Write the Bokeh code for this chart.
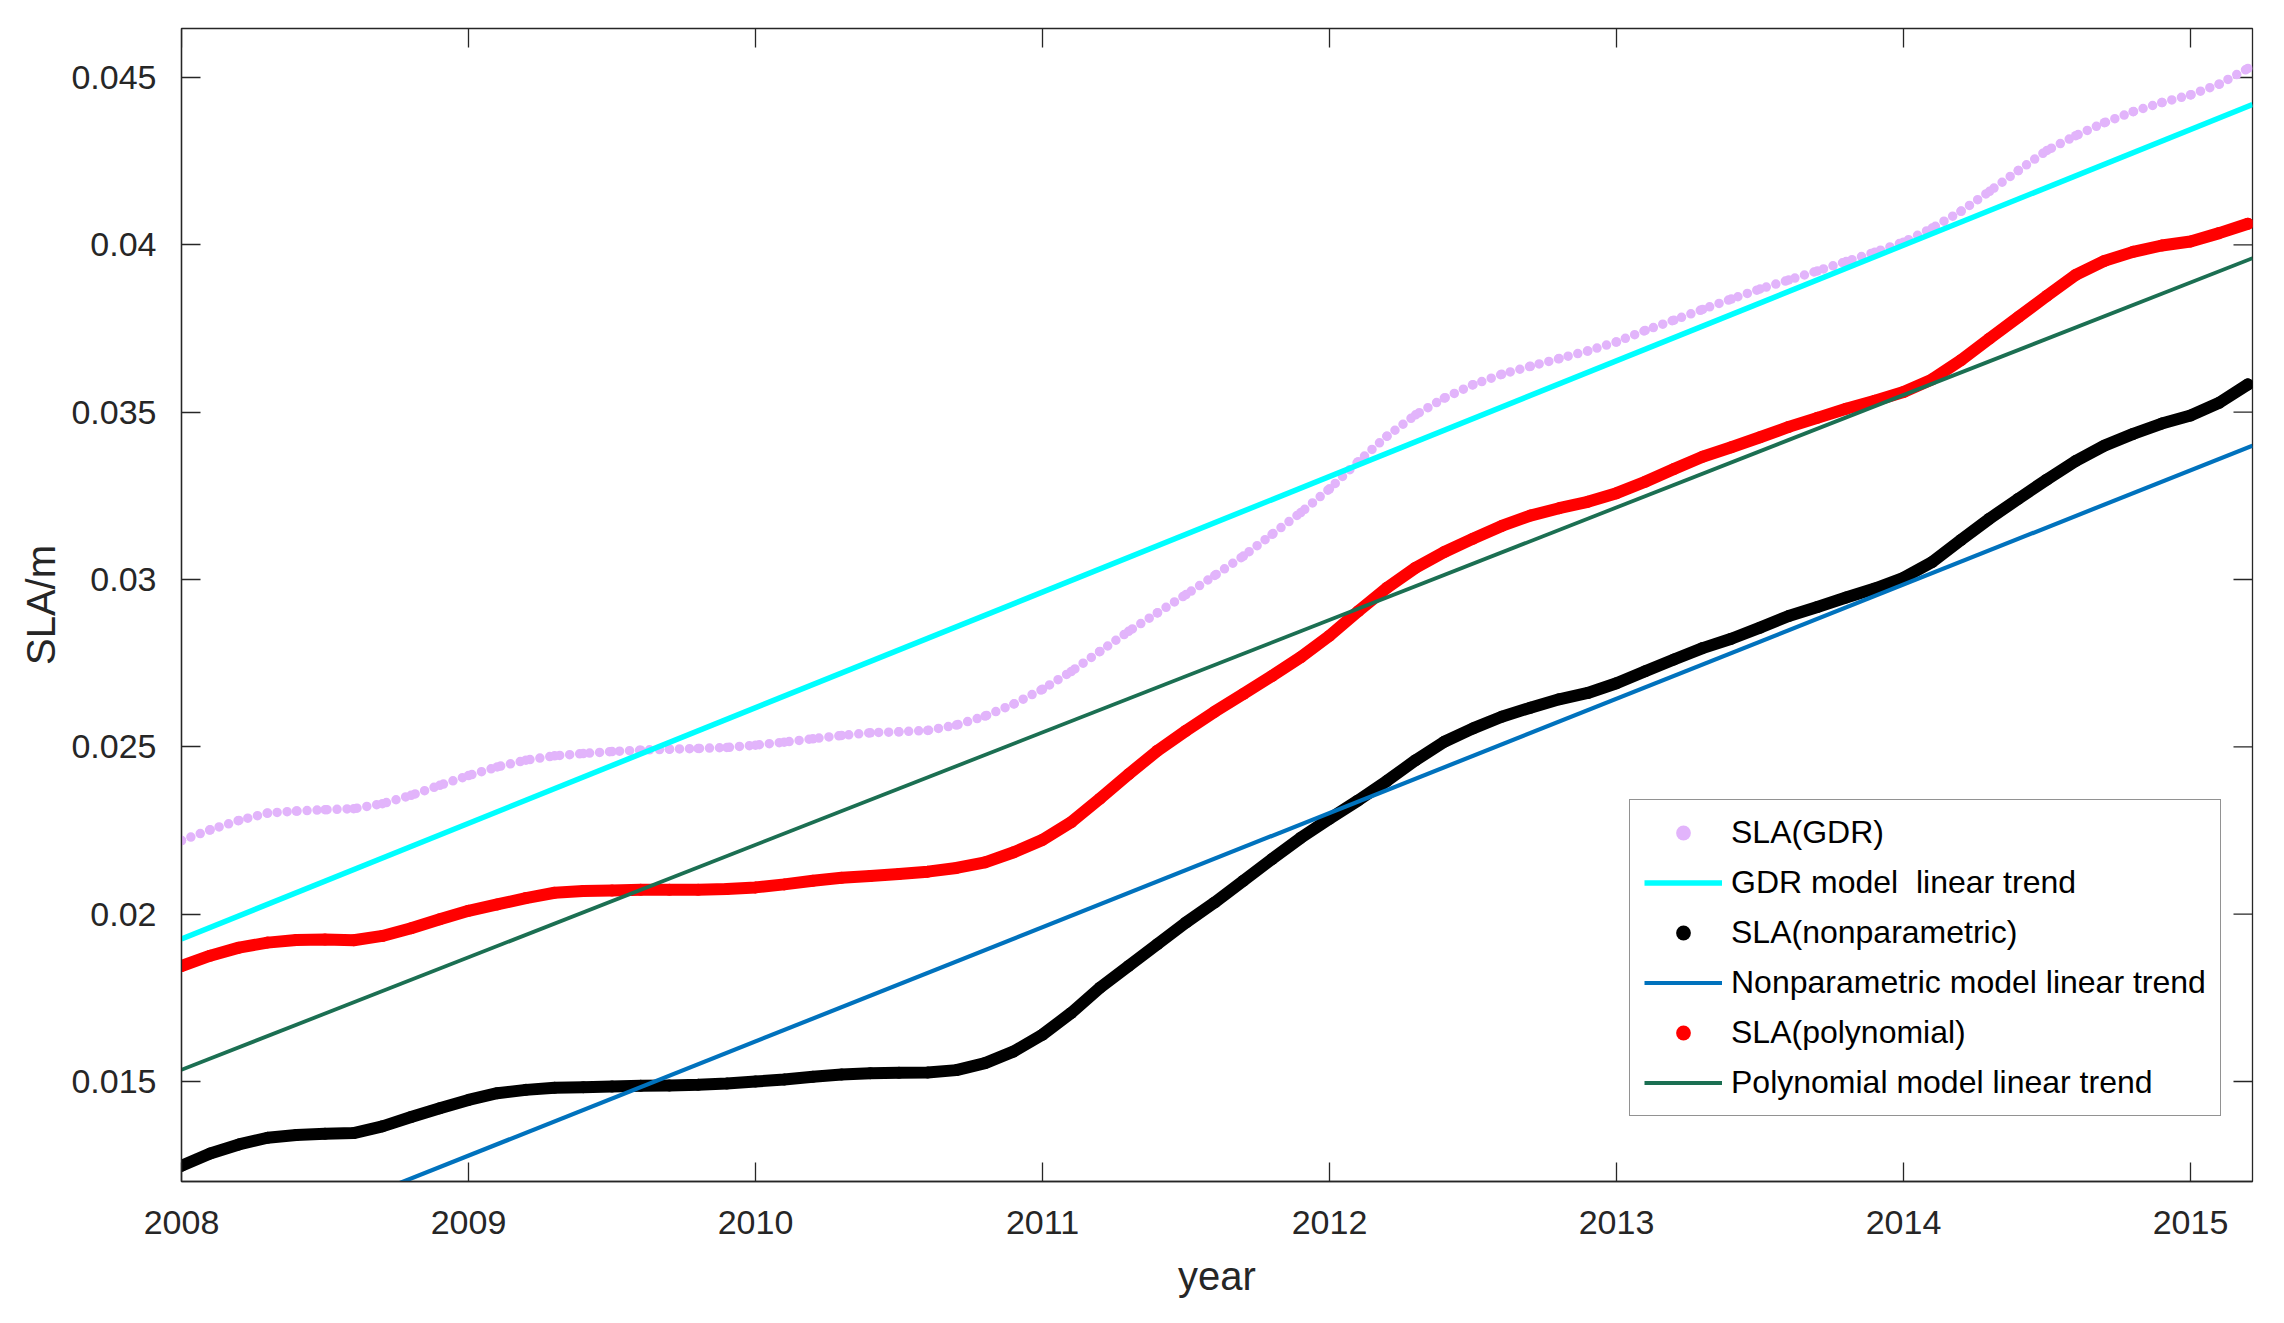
from bokeh.plotting import figure
from bokeh.models import Range1d, FixedTicker, Legend, LegendItem
from bokeh.embed import file_html
from bokeh.resources import INLINE

# ---------------- data ----------------
years = [2008.0, 2008.1, 2008.2, 2008.3, 2008.4, 2008.5, 2008.6, 2008.7, 2008.8, 2008.9,
         2009.0, 2009.1, 2009.2, 2009.3, 2009.4, 2009.5, 2009.6, 2009.7, 2009.8, 2009.9,
         2010.0, 2010.1, 2010.2, 2010.3, 2010.4, 2010.5, 2010.6, 2010.7, 2010.8, 2010.9,
         2011.0, 2011.1, 2011.2, 2011.3, 2011.4, 2011.5, 2011.6, 2011.7, 2011.8, 2011.9,
         2012.0, 2012.1, 2012.2, 2012.3, 2012.4, 2012.5, 2012.6, 2012.7, 2012.8, 2012.9,
         2013.0, 2013.1, 2013.2, 2013.3, 2013.4, 2013.5, 2013.6, 2013.7, 2013.8, 2013.9,
         2014.0, 2014.1, 2014.2, 2014.3, 2014.4, 2014.5, 2014.6, 2014.7, 2014.8, 2014.9,
         2015.0, 2015.1, 2015.2]

sla_gdr = [0.02220, 0.02252, 0.02280, 0.02302, 0.02308, 0.02312, 0.02315, 0.02330, 0.02355, 0.02385,
           0.02414, 0.02440, 0.02460, 0.02473, 0.02480, 0.02486, 0.02490, 0.02493, 0.02495, 0.02498,
           0.02505, 0.02514, 0.02524, 0.02534, 0.02542, 0.02545, 0.02549, 0.02565, 0.02592, 0.02628,
           0.02672, 0.02725, 0.02785, 0.02845, 0.02900, 0.02955, 0.03012, 0.03070, 0.03135, 0.03200,
           0.03271, 0.03352, 0.03428, 0.03492, 0.03542, 0.03582, 0.03613, 0.03637, 0.03660, 0.03683,
           0.03710, 0.03744, 0.03775, 0.03807, 0.03838, 0.03868, 0.03895, 0.03922, 0.03950, 0.03978,
           0.04008, 0.04050, 0.04100, 0.04160, 0.04222, 0.04282, 0.04326, 0.04365, 0.04398, 0.04425,
           0.04448, 0.04480, 0.04527]

sla_nonparametric = [0.01248, 0.01285, 0.01312, 0.01332, 0.01340, 0.01344, 0.01346, 0.01366, 0.01394, 0.01420,
                     0.01445, 0.01465, 0.01475, 0.01481, 0.01483, 0.01485, 0.01487, 0.01488, 0.01490, 0.01494,
                     0.01500, 0.01506, 0.01514, 0.01521, 0.01525, 0.01526, 0.01527, 0.01534, 0.01555, 0.01590,
                     0.01640, 0.01705, 0.01780, 0.01845, 0.01910, 0.01975, 0.02035, 0.02100, 0.02165, 0.02228,
                     0.02285, 0.02340, 0.02398, 0.02460, 0.02515, 0.02555, 0.02590, 0.02617, 0.02642, 0.02661,
                     0.02690, 0.02726, 0.02761, 0.02795, 0.02823, 0.02856, 0.02891, 0.02918, 0.02946, 0.02973,
                     0.03005, 0.03052, 0.03118, 0.03182, 0.03241, 0.03299, 0.03354, 0.03400, 0.03435, 0.03466,
                     0.03490, 0.03528, 0.03583]

sla_polynomial = [0.01845, 0.01876, 0.01900, 0.01915, 0.01923, 0.01924, 0.01922, 0.01935, 0.01958, 0.01985,
                  0.02010, 0.02029, 0.02048, 0.02064, 0.02069, 0.02071, 0.02073, 0.02073, 0.02073, 0.02075,
                  0.02080, 0.02089, 0.02100, 0.02109, 0.02114, 0.02120, 0.02127, 0.02138, 0.02155, 0.02185,
                  0.02222, 0.02275, 0.02345, 0.02418, 0.02488, 0.02548, 0.02605, 0.02658, 0.02712, 0.02768,
                  0.02832, 0.02905, 0.02975, 0.03035, 0.03082, 0.03122, 0.03160, 0.03191, 0.03213, 0.03232,
                  0.03258, 0.03292, 0.03330, 0.03367, 0.03395, 0.03425, 0.03456, 0.03483, 0.03510, 0.03534,
                  0.03560, 0.03598, 0.03655, 0.03720, 0.03784, 0.03848, 0.03910, 0.03952, 0.03979, 0.03998,
                  0.04010, 0.04035, 0.04063]

# linear trends: values at the two ends of the x range
trend_years = [2008.0, 2015.216]
trend_gdr = [0.01926, 0.04419]
trend_nonparametric = [0.009372, 0.03400]
trend_polynomial = [0.01535, 0.03960]

x_ticks = [2008, 2009, 2010, 2011, 2012, 2013, 2014, 2015]
x_tick_labels = ["2008", "2009", "2010", "2011", "2012", "2013", "2014", "2015"]
y_ticks = [0.015, 0.02, 0.025, 0.03, 0.035, 0.04, 0.045]
y_tick_labels = ["0.015", "0.02", "0.025", "0.03", "0.035", "0.04", "0.045"]

labels = ["SLA(GDR)", "GDR model  linear trend", "SLA(nonparametric)",
          "Nonparametric model linear trend", "SLA(polynomial)", "Polynomial model linear trend"]

# ---------------- styling ----------------
FONT = "Liberation Sans"
AX = "#262626"
C_GDR = "#E2B4FB"
C_CYAN = "#00FFFF"
C_BLACK = "#000000"
C_BLUE = "#0072BD"
C_RED = "#FF0000"
C_GREEN = "#1B6F52"

X0, X1 = 2008.0, 2015.216
Y0, Y1 = 0.012012, 0.046464
FW, FH = 2071, 1153
TICK = 19

p = figure(frame_width=FW, frame_height=FH,
           x_range=Range1d(X0, X1), y_range=Range1d(Y0, Y1),
           output_backend="svg", toolbar_location=None,
           min_border_left=181, min_border_right=24, min_border_top=28, min_border_bottom=118,
           x_axis_label="year", y_axis_label="SLA/m")
p.grid.visible = False
p.outline_line_color = AX
p.outline_line_width = 1.3
p.background_fill_color = "white"
p.border_fill_color = "white"


def style_axis(ax):
    ax.axis_line_color = AX
    ax.axis_line_width = 1.3
    ax.major_tick_line_color = AX
    ax.major_tick_line_width = 1.3
    ax.major_tick_in = TICK
    ax.major_tick_out = 0
    ax.minor_tick_in = 0
    ax.minor_tick_out = 0
    ax.major_label_text_font = FONT
    ax.major_label_text_color = AX
    ax.major_label_text_font_size = "34px"
    ax.axis_label_text_font = FONT
    ax.axis_label_text_font_size = "40px"
    ax.axis_label_text_font_style = "normal"
    ax.axis_label_text_color = AX


xa = p.xaxis[0]
xa.ticker = FixedTicker(ticks=x_ticks)
xa.major_label_overrides = {t: l for t, l in zip(x_ticks, x_tick_labels)}
style_axis(xa)
xa.major_label_standoff = 29
xa.axis_label_standoff = 17

ya = p.yaxis[0]
ya.ticker = FixedTicker(ticks=y_ticks)
ya.major_label_overrides = {t: l for t, l in zip(y_ticks, y_tick_labels)}
style_axis(ya)
ya.major_label_standoff = 25
ya.axis_label_standoff = 5

# inward ticks on the top and right sides of the box (mirrored from the axes' ticks)
dy = (Y1 - Y0) * TICK / FH
dx = (X1 - X0) * TICK / FW
p.segment(x0=x_ticks, y0=[Y1] * len(x_ticks), x1=x_ticks, y1=[Y1 - dy] * len(x_ticks),
          line_color=AX, line_width=1.3)
p.segment(x0=[X1] * len(y_ticks), y0=y_ticks, x1=[X1 - dx] * len(y_ticks), y1=y_ticks,
          line_color=AX, line_width=1.3)

# ---------------- glyphs (drawing order as in the reference) ----------------
p.line(years, sla_gdr, line_color=C_GDR, line_width=9.5, line_dash="0 10", line_cap="round")
p.scatter(years, sla_gdr, size=9.5, fill_color=C_GDR, line_color=None, marker="circle")
r_gdr_tr = p.line(trend_years, trend_gdr, line_color=C_CYAN, line_width=5.5)

p.line(years, sla_nonparametric, line_color=C_BLACK, line_width=12, line_cap="round", line_join="round")
p.scatter(years, sla_nonparametric, size=12, fill_color=C_BLACK, line_color=None, marker="circle")
r_np_tr = p.line(trend_years, trend_nonparametric, line_color=C_BLUE, line_width=4.2)

p.line(years, sla_polynomial, line_color=C_RED, line_width=12, line_cap="round", line_join="round")
p.scatter(years, sla_polynomial, size=12, fill_color=C_RED, line_color=None, marker="circle")
r_po_tr = p.line(trend_years, trend_polynomial, line_color=C_GREEN, line_width=3.8)

# legend marker glyphs (smaller than the plotted ones), kept outside the visible range
leg_gdr = p.scatter([X0 - 10], [Y0 - 1], size=8, fill_color=C_GDR, line_color=None, marker="circle")
leg_np = p.scatter([X0 - 10], [Y0 - 1], size=11, fill_color=C_BLACK, line_color=None, marker="circle")
leg_po = p.scatter([X0 - 10], [Y0 - 1], size=11, fill_color=C_RED, line_color=None, marker="circle")

items = [LegendItem(label=labels[0], renderers=[leg_gdr]),
         LegendItem(label=labels[1], renderers=[r_gdr_tr]),
         LegendItem(label=labels[2], renderers=[leg_np]),
         LegendItem(label=labels[3], renderers=[r_np_tr]),
         LegendItem(label=labels[4], renderers=[leg_po]),
         LegendItem(label=labels[5], renderers=[r_po_tr])]
legend = Legend(items=items, location=(1448, 65), margin=0, padding=14,
                glyph_width=78, glyph_height=37, label_height=37, spacing=13, label_standoff=9,
                label_text_font=FONT, label_text_font_size="32px", label_text_color="#000000",
                border_line_color=AX, border_line_width=1.5,
                background_fill_color="white", background_fill_alpha=1.0)
p.add_layout(legend)

open("out.html", "w").write(file_html(p, INLINE))
